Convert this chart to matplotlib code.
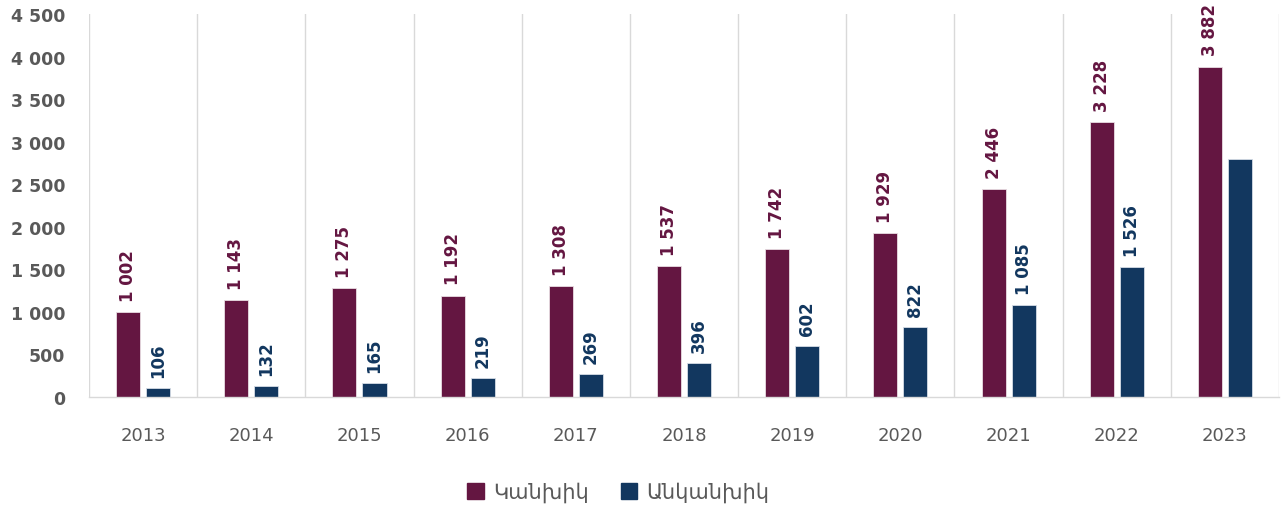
import matplotlib
matplotlib.use("Agg")
import matplotlib.pyplot as plt
from matplotlib.ticker import FuncFormatter, MultipleLocator
from matplotlib.patches import Patch
import numpy as np

years = ["2013", "2014", "2015", "2016", "2017", "2018", "2019", "2020", "2021", "2022", "2023"]
cash = [1002, 1143, 1275, 1192, 1308, 1537, 1742, 1929, 2446, 3228, 3882]
noncash = [106, 132, 165, 219, 269, 396, 602, 822, 1085, 1526, 2795]
noncash_labels = ["106", "132", "165", "219", "269", "396", "602", "822", "1 085", "1 526", ""]
series_names = ["Կանխիկ", "Անկանխիկ"]

c_red = "#641641"
c_blue = "#12375F"
gray_txt = "#595959"
grid_c = "#D9D9D9"

plt.rcParams['font.family'] = ['DejaVu Sans']

fig = plt.figure(figsize=(12.86, 5.10), dpi=100)
ax = fig.add_axes([89/1286, 1-398/510, (1279-89)/1286, (398-15)/510])

x = np.arange(len(years))
w = 0.222
off = 0.139
ax.bar(x - off, cash, w, color=c_red, edgecolor="#E8DDE2", linewidth=0.6)
ax.bar(x + off, noncash, w, color=c_blue, edgecolor="#D5DCE6", linewidth=0.6)

def fmt(v):
    return f"{int(v):,}".replace(",", " ")

for xi, v in zip(x, cash):
    ax.annotate(fmt(v), (xi - off, v), xytext=(0, 8), textcoords="offset points",
                rotation=90, ha="center", va="bottom", fontsize=12, fontweight="bold", color=c_red)
for xi, v, lab in zip(x, noncash, noncash_labels):
    if lab:
        ax.annotate(lab, (xi + off, v), xytext=(0, 8), textcoords="offset points",
                    rotation=90, ha="center", va="bottom", fontsize=12, fontweight="bold", color=c_blue)

ax.set_xlim(-0.5, len(years) - 0.5)
ax.set_ylim(0, 4500)
ax.yaxis.set_major_locator(MultipleLocator(500))
ax.yaxis.set_major_formatter(FuncFormatter(lambda v, p: fmt(v)))

for b in np.arange(-0.5, len(years), 1.0):
    ax.axvline(b, color=grid_c, lw=1, zorder=0)

for s in ["top", "right", "left"]:
    ax.spines[s].set_visible(False)
ax.spines["bottom"].set_color(grid_c)
ax.spines["bottom"].set_linewidth(1)

ax.set_xticks(x)
ax.set_xticklabels(years)
ax.tick_params(axis="x", length=0, pad=21, labelsize=13, labelcolor=gray_txt)
ax.tick_params(axis="y", length=0, pad=17, labelsize=12.5, labelcolor=gray_txt)
for t in ax.get_yticklabels():
    t.set_fontweight("bold")

handles = [Patch(facecolor=c_red, edgecolor=c_red), Patch(facecolor=c_blue, edgecolor=c_blue)]
fig.legend(handles, series_names, loc="center", bbox_to_anchor=(0.481, 0.033), ncol=2,
           frameon=False, fontsize=15, handlelength=0.8, handleheight=0.8,
           handletextpad=0.45, columnspacing=1.5, labelcolor=gray_txt)

fig.savefig("out.png", dpi=100)
